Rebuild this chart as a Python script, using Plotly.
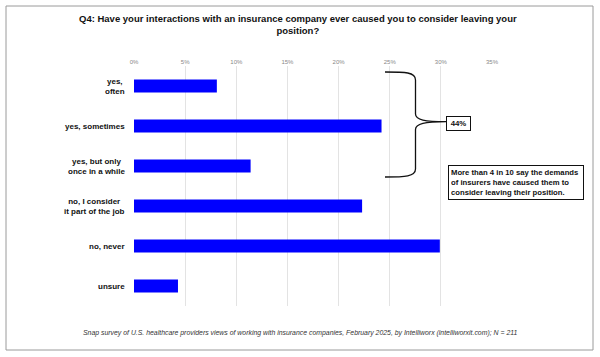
import plotly.graph_objects as go

categories = ["yes,<br>often", "yes, sometimes", "yes, but only<br>once in a while",
              "no, I consider<br>it part of the job", "no, never", "unsure"]
values = [8.1, 24.2, 11.4, 22.3, 29.9, 4.3]
tick_vals = [0, 5, 10, 15, 20, 25, 30, 35]
tick_text = ["0%", "5%", "10%", "15%", "20%", "25%", "30%", "35%"]

title_text = ("Q4: Have your interactions with an insurance company ever caused you to consider leaving your"
              "<br>position?")
footnote = ("Snap survey of U.S. healthcare providers views of working with insurance companies, "
            "February 2025, by Intelliworx (intelliworxit.com); N = 211")
bracket_label = "44%"
callout = ("More than 4 in 10 say the demands<br>of insurers have caused them to<br>"
           "consider leaving their position.")

W, H = 600, 357
L, R, T, B = 134, 492, 66, 306

def px(x):
    return (x - L) / (R - L)

def py(y):
    return 1 - (y - T) / (B - T)

FONT = "Liberation Sans, Arial, sans-serif"

fig = go.Figure()
fig.add_trace(go.Bar(
    y=categories, x=values, orientation="h",
    marker=dict(color="#0000FF", line=dict(width=0)),
    width=0.33, hoverinfo="x+y",
))

fig.update_layout(
    width=W, height=H,
    margin=dict(l=L, r=W - R, t=T, b=H - B),
    paper_bgcolor="white", plot_bgcolor="white",
    showlegend=False,
    font=dict(family=FONT),
    xaxis=dict(range=[0, 35], side="top", tickvals=tick_vals, ticktext=tick_text,
               tickfont=dict(size=6, color="#888888"), showgrid=True,
               gridcolor="#e3e3e3", gridwidth=1, zeroline=False, showline=False,
               ticks="", ticklen=0, fixedrange=True),
    yaxis=dict(categoryorder="array", categoryarray=categories, autorange="reversed",
               showticklabels=False, showgrid=False, zeroline=False, showline=False,
               range=[5.5, -0.5]),
)

annotations = []
# title
annotations.append(dict(text="<b>" + title_text + "</b>", xref="paper", yref="paper",
                        x=px(298), y=py(24.5), xanchor="center", yanchor="middle",
                        showarrow=False, font=dict(size=9.5, color="#111111", family=FONT),
                        align="center"))
# category labels
for c in categories:
    annotations.append(dict(text="<b>" + c + "</b>", xref="paper", yref="y", x=0, y=c,
                            xanchor="right", yanchor="middle", xshift=-7, showarrow=False,
                            align="center", font=dict(size=8, color="#111111", family=FONT)))
# footnote
annotations.append(dict(text="<i>" + footnote + "</i>", xref="paper", yref="paper",
                        x=px(300), y=py(333), xanchor="center", yanchor="middle",
                        showarrow=False, font=dict(size=6.9, color="#333333", family=FONT)))
# 44% box
annotations.append(dict(text="<b>" + bracket_label + "</b>", xref="paper", yref="paper",
                        x=px(458.5), y=py(123.5), xanchor="center", yanchor="middle",
                        showarrow=False, font=dict(size=7.8, color="#111111", family=FONT),
                        bordercolor="#111111", borderwidth=1, borderpad=2, bgcolor="white",
                        width=19))
# callout
annotations.append(dict(text="<b>" + callout + "</b>", xref="paper", yref="paper",
                        x=px(516), y=py(182.5), xanchor="center", yanchor="middle",
                        showarrow=False, font=dict(size=7.7, color="#111111", family=FONT),
                        align="left", bordercolor="#111111", borderwidth=1, borderpad=2,
                        bgcolor="white", width=130))
fig.update_layout(annotations=annotations)

def P(x, y):
    return f"{px(x):.5f},{py(y):.5f}"

brace = (f"M {P(385,72)} C {P(405,72)} {P(415.5,72)} {P(415.5,80)} "
         f"L {P(415.5,114)} C {P(415.5,120)} {P(425,121.7)} {P(446,121.7)} "
         f"M {P(446,121.7)} C {P(425,121.7)} {P(415.5,123.5)} {P(415.5,129.5)} "
         f"L {P(415.5,169)} C {P(415.5,176.5)} {P(405,177)} {P(385,177)}")

fig.add_shape(type="path", path=brace, xref="paper", yref="paper",
              line=dict(color="#111111", width=1.3))
# outer border
fig.add_shape(type="rect", xref="paper", yref="paper",
              x0=px(6), x1=px(593), y0=py(350), y1=py(6),
              line=dict(color="#9a9a9a", width=1), fillcolor="rgba(0,0,0,0)", layer="below")

fig.write_html("out.html", config={"displayModeBar": False},
               post_script="document.body.style.margin='0';document.body.style.overflow='hidden';")
